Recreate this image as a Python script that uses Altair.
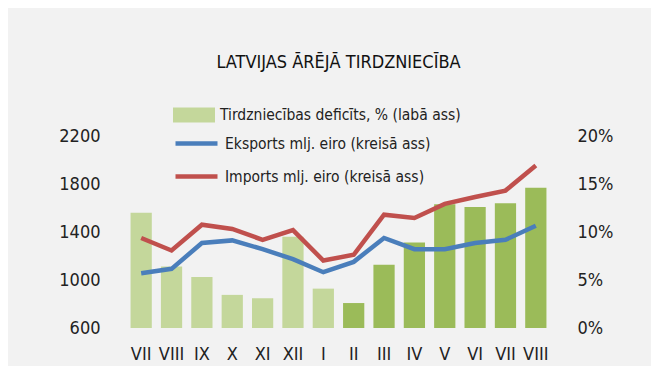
import altair as alt
import pandas as pd

months = ["VII", "VIII", "IX", "X", "XI", "XII", "I", "II", "III", "IV", "V", "VI", "VII", "VIII"]
deficit = [12.0, 6.4, 5.3, 3.45, 3.1, 9.5, 4.1, 2.6, 6.6, 8.9, 12.9, 12.6, 13.0, 14.6]
exports = [1057, 1093, 1308, 1330, 1257, 1174, 1065, 1151, 1350, 1257, 1257, 1308, 1335, 1452]
imports = [1350, 1246, 1461, 1425, 1335, 1416, 1162, 1210, 1544, 1517, 1634, 1692, 1745, 1954]
years = ["2012"] * 7 + ["2013"] * 7

DEF_LABEL = "Tirdzniecības deficīts, % (labā ass)"
EXP_LABEL = "Eksports mlj. eiro (kreisā ass)"
IMP_LABEL = "Imports mlj. eiro (kreisā ass)"

FONT = "DejaVu Sans Condensed, Liberation Sans Narrow, Roboto, sans-serif"

keys = [f"{m}|{i}" for i, m in enumerate(months)]
bars_df = pd.DataFrame({
    "key": keys,
    "deficit": deficit,
    "kind": [DEF_LABEL if y == "2012" else "2013" for y in years],
})
lines_df = pd.DataFrame({
    "key": keys * 2,
    "value": exports + imports,
    "series": [EXP_LABEL] * len(keys) + [IMP_LABEL] * len(keys),
})

xenc = alt.X(
    "key:N", sort=keys, title=None,
    scale=alt.Scale(paddingInner=0.3, paddingOuter=0.15),
    axis=alt.Axis(labelExpr="split(datum.value, '|')[0]", labelAngle=0,
                  labelPadding=17, labelBaseline="top", labelFontSize=18,
                  domain=False, ticks=False, labelColor="#222222"),
)

bars = alt.Chart(bars_df).mark_bar().encode(
    x=xenc,
    y=alt.Y("deficit:Q", title=None,
            scale=alt.Scale(domain=[0, 20], nice=False),
            axis=alt.Axis(orient="right", values=[0, 5, 10, 15, 20],
                          labelExpr="datum.value + '%'", grid=False,
                          domain=False, ticks=False, labelPadding=26,
                          labelFontSize=18, labelColor="#222222")),
    fill=alt.Fill("kind:N",
                  scale=alt.Scale(domain=[DEF_LABEL, "2013"], range=["#c4d79b", "#9bbb59"]),
                  legend=alt.Legend(values=[DEF_LABEL], title=None, orient="none",
                                    legendX=47, legendY=-31,
                                    symbolType="M-1,-0.75H3.2V0.75H-1Z",
                                    symbolSize=400, symbolStrokeWidth=0)),
)

lines = alt.Chart(lines_df).mark_line(strokeWidth=4.5).encode(
    x=xenc,
    y=alt.Y("value:Q", title=None,
            scale=alt.Scale(domain=[600, 2200], nice=False),
            axis=alt.Axis(orient="left", values=[600, 1000, 1400, 1800, 2200],
                          format="d",
                          grid=False, domain=False, ticks=False, labelPadding=26,
                          labelFontSize=18, labelColor="#222222")),
    stroke=alt.Stroke("series:N",
                      scale=alt.Scale(domain=[EXP_LABEL, IMP_LABEL], range=["#4a7ebb", "#c0504d"]),
                      legend=alt.Legend(title=None, orient="none", legendX=47, legendY=-5,
                                        symbolType="M-1,0H3.2", symbolSize=400,
                                        symbolStrokeWidth=4.5, rowPadding=11)),
    detail="series:N",
)

chart = alt.layer(bars, lines).resolve_scale(
    y="independent", fill="independent", stroke="independent"
).properties(
    width=425, height=192,
    autosize=alt.AutoSizeParams(type="none"),
    padding={"left": 118, "top": 128, "right": 100, "bottom": 38},
    background="#f2f2f2",
    title=alt.Title("LATVIJAS ĀRĒJĀ TIRDZNIECĪBA", anchor="middle", frame="group",
                    fontSize=18, fontWeight="normal", font=FONT, color="#111111",
                    baseline="alphabetic", offset=19),
).configure_view(stroke=None).configure_axis(
    labelFont=FONT
).configure_legend(
    labelFont=FONT, labelFontSize=15.5, labelColor="#222222", labelLimit=400,
    labelOffset=27, padding=0, rowPadding=11,
)

chart.save("out.html", embed_options={"renderer": "svg", "actions": False})
